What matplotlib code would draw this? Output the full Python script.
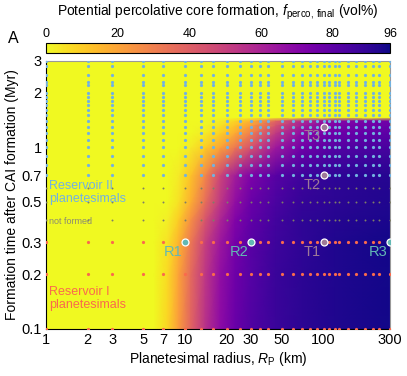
import numpy as np
import matplotlib
matplotlib.use("Agg")
import matplotlib.pyplot as plt

plt.rcParams['font.family'] = ['Liberation Sans', 'DejaVu Sans']
plt.rcParams['mathtext.fontset'] = 'custom'
plt.rcParams['mathtext.rm'] = 'Liberation Sans'
plt.rcParams['mathtext.it'] = 'Liberation Sans:italic'

# field f_perco,final (vol%) on a coarse grid
R_nodes = [1, 6, 7.5, 9, 11, 14, 18, 23, 30, 45, 70, 120, 300]
t_nodes = [0.1, 0.2, 0.3, 0.4, 0.5, 0.7, 1.0, 1.2, 1.32, 1.40, 1.46, 3.0]
f_vals = [
    [0, 0, 8, 22, 38, 55, 68, 77, 83, 88, 91, 93, 95],
    [0, 0, 7, 20, 36, 53, 67, 76, 82, 88, 91, 93, 95],
    [0, 0, 5, 16, 32, 50, 64, 74, 81, 87, 90, 93, 95],
    [0, 0, 2, 10, 25, 43, 59, 71, 79, 86, 90, 92, 94],
    [0, 0, 0, 5, 17, 35, 53, 67, 77, 84, 89, 91, 93],
    [0, 0, 0, 3, 12, 28, 48, 62, 72, 81, 87, 90, 92],
    [0, 0, 0, 0, 3, 10, 20, 32, 44, 63, 75, 82, 85],
    [0, 0, 0, 0, 0, 3, 9, 18, 30, 52, 68, 76, 80],
    [0, 0, 0, 0, 0, 1, 5, 12, 22, 44, 62, 72, 77],
    [0, 0, 0, 0, 0, 0, 3, 8, 16, 38, 58, 70, 75],
    [0, 0, 0, 0, 0, 0, 0, 0, 0, 0, 0, 0, 0],
    [0, 0, 0, 0, 0, 0, 0, 0, 0, 0, 0, 0, 0],
]

# simulated grid
R_grid = [1, 2, 3, 5, 7, 10, 13, 16, 20, 25, 30, 35, 40, 50, 60, 70, 80, 90,
          100, 110, 120, 130, 150, 170, 200, 225, 250, 300]
t_res2 = [3.0, 2.8, 2.5, 2.3, 2.2, 2.0, 1.9, 1.8, 1.7, 1.6, 1.5, 1.4, 1.3,
          1.2, 1.1, 1.0, 0.9, 0.8, 0.7]
t_none = [0.6, 0.5, 0.4]
t_res1 = [0.3, 0.2, 0.1]

# highlighted cases
r_names = ["R1", "R2", "R3"]
r_R = [10, 30, 300]
r_t = [0.3, 0.3, 0.3]
t_names = ["T1", "T2", "T3"]
t_R = [100, 100, 100]
t_t = [0.3, 0.7, 1.3]

blue = "#72b2e0"
red = "#fa6a4c"
teal = "#62b8b4"
mauve = "#9e7a98"

fig = plt.figure(figsize=(4.07, 3.76), dpi=100)
ax = fig.add_axes([0.113, 0.125, 0.845, 0.714])
cax = fig.add_axes([0.113, 0.859, 0.845, 0.027])

mesh = ax.pcolormesh(R_nodes, t_nodes, np.array(f_vals), shading='gouraud',
                     cmap='plasma_r', vmin=0, vmax=96, rasterized=True)

def skip(R, t):
    for rr, tt in zip(r_R + t_R, r_t + t_t):
        if rr == R and tt == t:
            return True
    return False

for t in t_res2:
    xs = [R for R in R_grid if not skip(R, t)]
    ax.plot(xs, [t] * len(xs), 'o', ms=2.3, color=blue, mec='none', zorder=3)
for t in t_none:
    ax.plot(R_grid, [t] * len(R_grid), 'o', ms=1.4, color='#7e7e68',
            mec='none', zorder=3)
for t in t_res1:
    xs = [R for R in R_grid if not skip(R, t)]
    ax.plot(xs, [t] * len(xs), 'o', ms=2.3, color=red, mec='none', zorder=3)

for name, R, t in zip(r_names, r_R, r_t):
    ax.plot(R, t, 'o', ms=5, color=teal, mec='white', mew=0.9, zorder=4)
    ax.annotate(name, (R, t), xytext=(-2, -2), textcoords='offset points',
                ha='right', va='top', color=teal, fontsize=10.5)
for name, R, t in zip(t_names, t_R, t_t):
    ax.plot(R, t, 'o', ms=5, color=mauve, mec='white', mew=0.9, zorder=4)
    ax.annotate(name, (R, t), xytext=(-2, -2), textcoords='offset points',
                ha='right', va='top', color=mauve, fontsize=10.5, zorder=5)

ax.text(1.05, 0.66, "Reservoir II\nplanetesimals", color=blue, fontsize=9,
        ha='left', va='top', linespacing=1.1)
ax.text(1.05, 0.392, "not formed", color='#8a8a72', fontsize=6.5,
        ha='left', va='center')
ax.text(1.05, 0.172, "Reservoir I\nplanetesimals", color=red, fontsize=9,
        ha='left', va='top', linespacing=1.1)

ax.set_xscale('log')
ax.set_yscale('log')
ax.set_xlim(1, 300)
ax.set_ylim(0.1, 3)
xt = [1, 2, 3, 5, 7, 10, 20, 30, 50, 100, 300]
yt = [0.1, 0.2, 0.3, 0.5, 0.7, 1, 2, 3]
ax.set_xticks(xt)
ax.set_xticklabels([str(v) for v in xt])
ax.set_yticks(yt)
ax.set_yticklabels(['0.1', '0.2', '0.3', '0.5', '0.7', '1', '2', '3'])
ax.minorticks_off()
ax.tick_params(length=0, labelsize=10.5, pad=3)
ax.set_xlabel(r"Planetesimal radius, $R_{\rm P}$ (km)", fontsize=10, labelpad=2)
ax.set_ylabel("Formation time after CAI formation (Myr)", fontsize=10, labelpad=2)
for s in ['top', 'right']:
    ax.spines[s].set_color('#999999')
for s in ['left', 'bottom']:
    ax.spines[s].set_color('black')

cb = fig.colorbar(mesh, cax=cax, orientation='horizontal',
                  ticks=[0, 20, 40, 60, 80, 96])
cax.xaxis.set_ticks_position('top')
cax.tick_params(length=0, labelsize=9, pad=2)
cb.outline.set_linewidth(0.8)
fig.text(0.535, 0.968, r"Potential percolative core formation, $f_{\rm perco,\,final}$ (vol%)",
         ha='center', va='center', fontsize=10)
fig.text(0.02, 0.897, "A", fontsize=11.5, ha='left', va='center')

fig.savefig("out.png", dpi=100)
